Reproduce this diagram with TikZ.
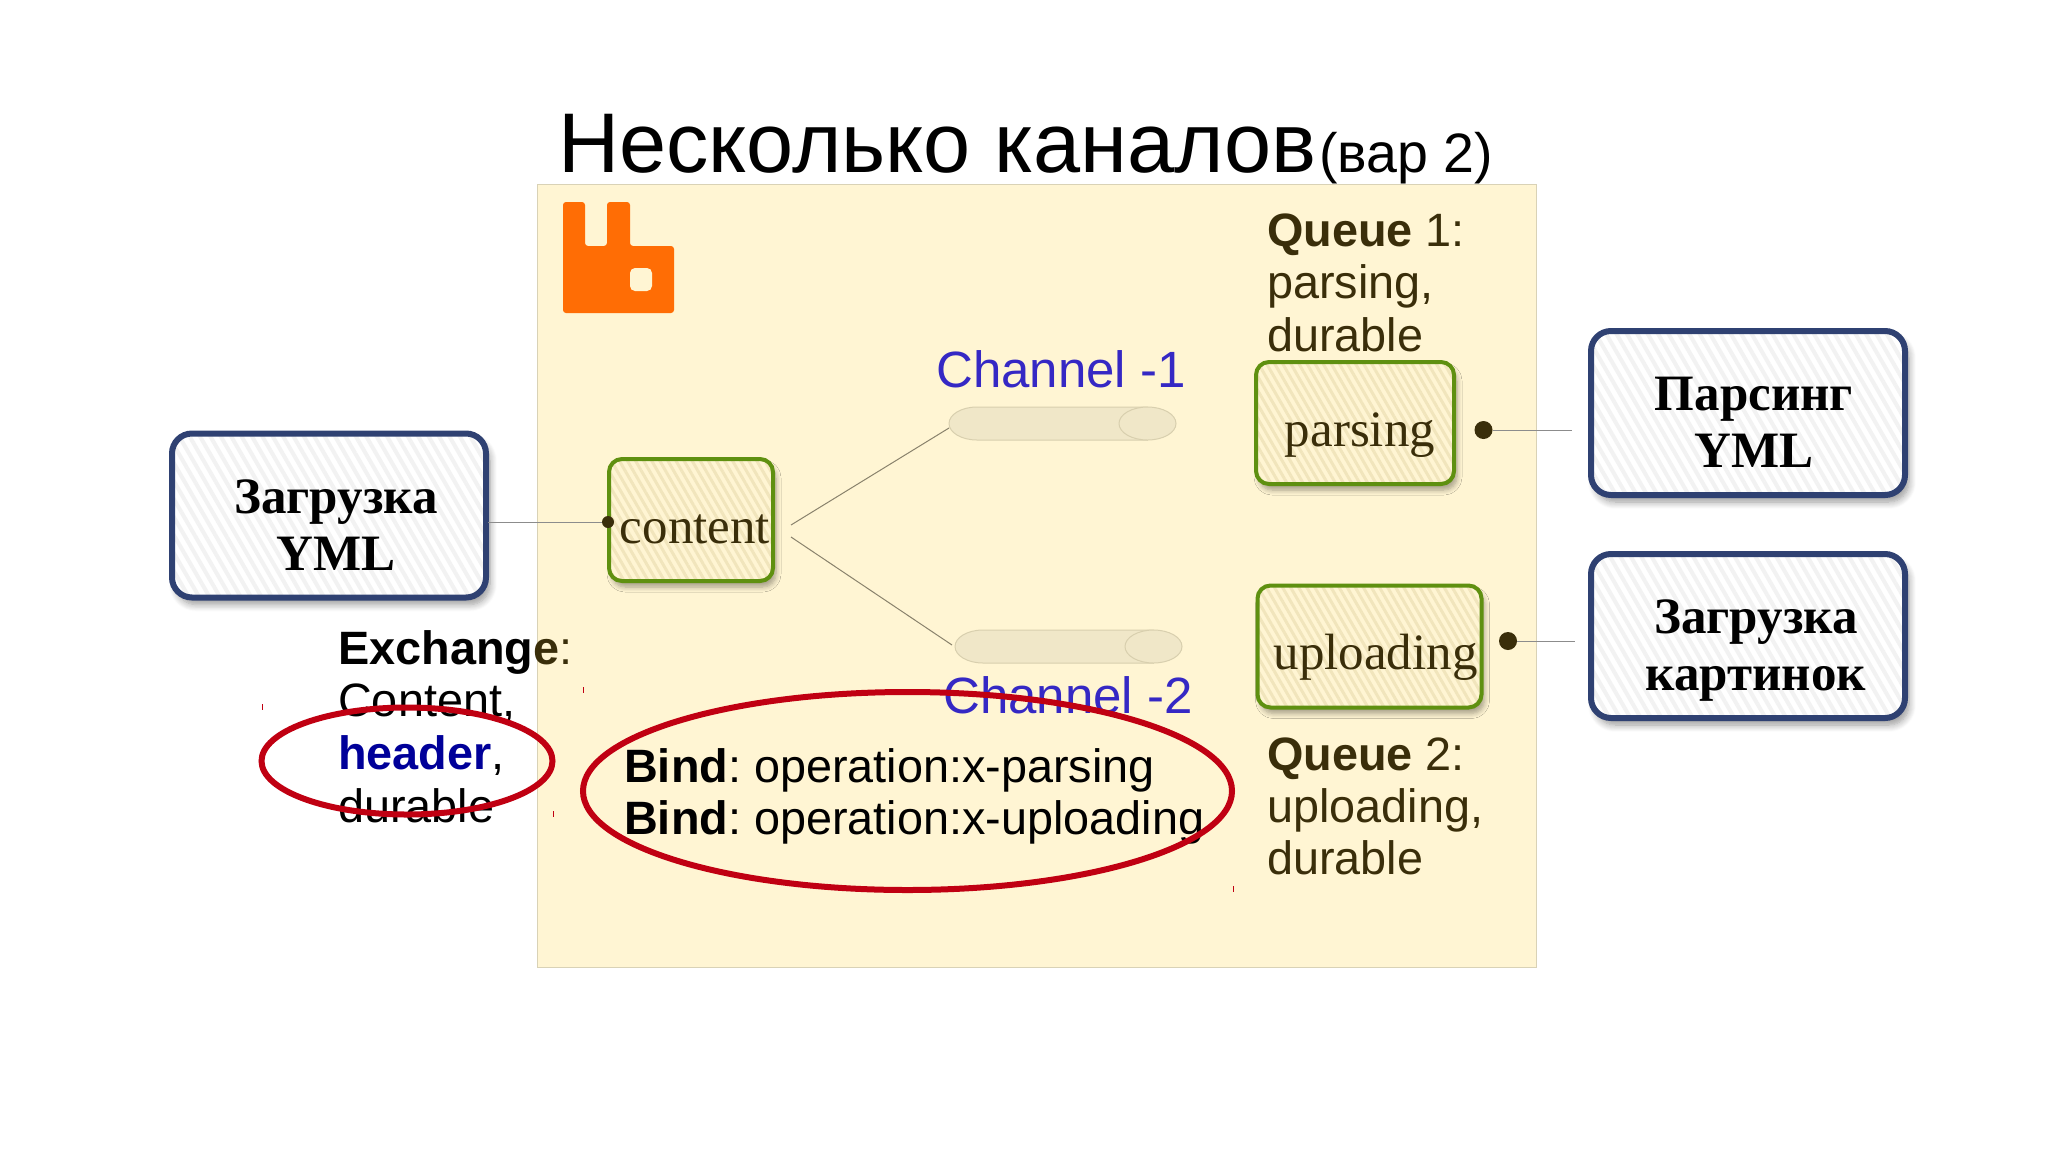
\documentclass[tikz,border=0pt]{standalone}
\usepackage{fontspec}
\setmainfont{Liberation Serif}
\setsansfont{Liberation Sans}
\usetikzlibrary{shapes.geometric,shadows.blur,patterns.meta}
\definecolor{paneltint}{HTML}{FFF5D3}
\definecolor{paneledge}{HTML}{D9D2B6}
\definecolor{darktext}{HTML}{3A2E0A}
\definecolor{navyedge}{HTML}{2F4172}
\definecolor{greenedge}{HTML}{5F9010}
\definecolor{circlered}{HTML}{C00012}
\definecolor{chantext}{HTML}{3528C4}
\definecolor{pipefill}{HTML}{F0E7C8}
\definecolor{pipeedge}{HTML}{D8CFAE}
\definecolor{hatchtan}{HTML}{F1E5BC}
\definecolor{logoorange}{HTML}{FF6D05}
\tikzset{
  taskbox/.style={rectangle, rounded corners=20pt, draw=navyedge, line width=6pt,
    blur shadow={shadow xshift=4pt, shadow yshift=-7pt, shadow blur radius=7pt, shadow blur steps=8, shadow opacity=40},
    preaction={fill=white},
    pattern={Lines[angle=-60,distance=9pt,line width=4pt]}, pattern color=black!5,
    minimum width=314pt, minimum height=164pt, inner sep=0pt, align=center,
    font=\fontsize{51}{57}\selectfont\bfseries},
  queuebox/.style={rectangle, rounded corners=13pt, draw=greenedge, line width=4pt,
    blur shadow={shadow xshift=3pt, shadow yshift=-6pt, shadow blur radius=5pt, shadow blur steps=6, shadow opacity=35},
    preaction={fill=paneltint},
    pattern={Lines[angle=-60,distance=7pt,line width=3pt]}, pattern color=hatchtan,
    inner sep=0pt, text height=84pt, text depth=38pt, text=darktext,
    font=\fontsize{51}{57}\selectfont},
  pipebody/.style={draw=pipeedge, line width=1pt, fill=pipefill},
  pipecap/.style={ellipse, draw=pipeedge, line width=1pt, fill=pipefill,
    minimum width=57pt, minimum height=33pt, inner sep=0pt},
  dot/.style={circle, fill=darktext, inner sep=0pt, minimum size=18pt},
  wire/.style={draw=black!45, line width=1pt},
  thinwire/.style={draw=darktext!60, line width=1pt},
  note/.style={anchor=base west, inner sep=0pt, align=left, font=\sffamily\fontsize{46.8}{52.3}\selectfont},
  chan/.style={anchor=base west, inner sep=0pt, text=chantext, font=\sffamily\fontsize{51}{57}\selectfont},
  ring/.style={ellipse, draw=circlered, line width=6pt, inner sep=0pt},
}
\begin{document}
\begin{tikzpicture}[x=1pt,y=-1pt]
  \useasboundingbox (0,0) rectangle (2048,1152);
  \fill[paneltint] (537,184) rectangle (1536,967);
  \draw[paneledge, line width=1pt] (537,184) rectangle (1536,967);
  \node (title) [anchor=base west, inner sep=0pt, font=\sffamily\fontsize{84.7}{90}\selectfont]
    at (558,172.5) {Несколько каналов\hspace{2.5pt}{\fontsize{55.5}{60}\selectfont(вар 2)}};
  \fill[logoorange, rounded corners=3pt]
    (563,202) -- (585,202) -- (585,246) -- (607,246) -- (607,202) -- (630,202)
    -- (630,246) -- (674,246) -- (674,313) -- (563,313) -- cycle;
  \fill[paneltint, rounded corners=5pt] (630,268) rectangle (652,291);

  \node (load) [taskbox] at (329,515.5) {\rule{0pt}{52pt}\hspace*{14pt}Загрузка\\\hspace*{14pt}YML};
  \node (parseyml) [taskbox] at (1748,413) {\rule{0pt}{52pt}\hspace*{12pt}Парсинг\\\hspace*{12pt}YML};
  \node (loadpics) [taskbox] at (1748,636) {\rule{0pt}{62pt}\hspace*{16pt}Загрузка\\\hspace*{16pt}картинок};

  \node (content) [queuebox, minimum width=164pt] at (691,520) {\hspace*{8pt}content};
  \node (parsing) [queuebox, minimum width=198pt] at (1355,423) {\hspace*{10pt}parsing};
  \node (uploading) [queuebox, minimum width=224pt] at (1369.5,646.5) {\hspace*{12pt}uploading};

  \foreach \name/\px/\py in {chan1/949/407, chan2/955/630} {
    \draw[pipebody] (\px+28,\py) arc[start angle=90, end angle=270, x radius=28pt, y radius=16.5pt]
      -- (\px+198.5,\py+33) -- (\px+198.5,\py) -- cycle;
    \node (\name) [pipecap] at (\px+198.5,\py+16.5) {};
  }
  \node (chan1label) [chan] at (936,387.5) {Channel -1};
  \node (chan2label) [chan] at (943,713) {Channel -2};

  \node (dot0) [dot, minimum size=12pt] at (608,522) {};
  \node (dot1) [dot] at (1483.5,430) {};
  \node (dot2) [dot] at (1508,641) {};
  \coordinate (wire1) at (1572,430);
  \coordinate (wire2) at (1575,641);
  \coordinate (fork1) at (791,525);
  \coordinate (fork2) at (791,537);
  \coordinate (in1) at (949,428);
  \coordinate (in2) at (952,645);
  \draw[wire] (load.east |- dot0) to (dot0);
  \draw[wire] (dot1) to (wire1);
  \draw[wire] (dot2) to (wire2);
  \draw[thinwire] (fork1) to (in1);
  \draw[thinwire] (fork2) to (in2);

  \node (queue1) [note, text=darktext] at (1267,246) {\textbf{Queue} 1:};
  \node (queue1a) [note, text=darktext] at (1267,298.5) {parsing,};
  \node (queue1b) [note, text=darktext] at (1267,351) {durable};
  \node (queue2) [note, text=darktext] at (1267,770) {\textbf{Queue} 2:};
  \node (queue2a) [note, text=darktext] at (1267,822) {uploading,};
  \node (queue2b) [note, text=darktext] at (1267,874.5) {durable};
  \node (exch) [note] at (338,664.5) {\textbf{Exchang}{\color{darktext}\textbf{e}:}};
  \node (exch1) [note] at (338,716.5) {Content,};
  \node (exch2) [note] at (338,769.5) {\textbf{\color[HTML]{000099}header},};
  \node (exch3) [note] at (338,822) {durable};
  \node (bind1) [note] at (624,782) {\textbf{Bind}:\hspace{13pt}operation:x-parsing};
  \node (bind2) [note] at (624,834) {\textbf{Bind}:\hspace{13pt}operation:x-uploading};

  \node (ring1) [ring, minimum width=291pt, minimum height=107pt] at (407,761) {};
  \node (ring2) [ring, minimum width=649pt, minimum height=198pt] at (907.5,791) {};
  \foreach \tx/\ty in {262/704, 583/687, 553/811, 1233/886}
    \draw[circlered, line width=.8pt] (\tx,\ty) -- ++(0,6);
\end{tikzpicture}
\end{document}
